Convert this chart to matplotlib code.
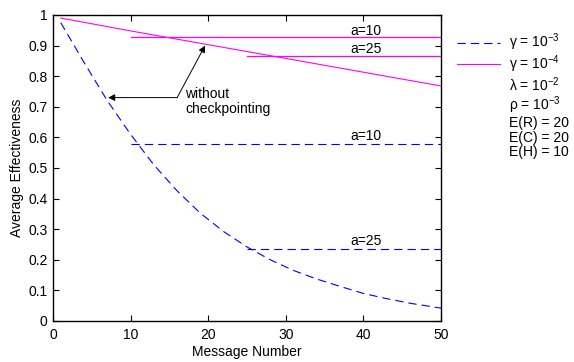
"""Average effectiveness vs message number, with/without checkpointing."""

import matplotlib

matplotlib.use("Agg")

import matplotlib.pyplot as plt  # noqa: E402
from matplotlib.lines import Line2D  # noqa: E402

plt.rcParams["font.family"] = ["Liberation Sans", "DejaVu Sans"]
plt.rcParams["mathtext.fontset"] = "custom"
plt.rcParams["mathtext.rm"] = "Liberation Sans"
plt.rcParams["mathtext.it"] = "Liberation Sans:italic"

# data
msg_blue = [1, 4, 7, 10, 13, 16, 19, 22, 25, 28, 31, 34, 37, 40, 43, 46, 50]
eff_blue = [0.975, 0.845, 0.72, 0.61, 0.51, 0.425, 0.352, 0.292, 0.242,
            0.2, 0.165, 0.137, 0.113, 0.09, 0.073, 0.058, 0.042]
msg_mag = [1, 10, 20, 30, 40, 50]
eff_mag = [0.99, 0.948, 0.903, 0.858, 0.813, 0.768]

ckpt_blue = {10: 0.578, 25: 0.235}
ckpt_mag = {10: 0.927, 25: 0.867}
x_end = 50

legend_labels = [
    "γ = 10$^{-3}$",
    "γ = 10$^{-4}$",
    "λ = 10$^{-2}$",
    "ρ = 10$^{-3}$",
    "E(R) = 20",
    "E(C) = 20",
    "E(H) = 10",
]

BLUE = "#0000ff"
MAG = "#ff00ff"
DASH = (7.5, 4.5)
FS = 10

fig = plt.figure(figsize=(5.74, 3.62), dpi=100)
ax = fig.add_axes([0.0923, 0.1133, 0.676, 0.8453])

ax.plot(msg_blue, eff_blue, color=BLUE, lw=0.8, dashes=DASH)
ax.plot(msg_mag, eff_mag, color=MAG, lw=0.8)

for a, y in ckpt_blue.items():
    ax.plot([a, x_end], [y, y], color=BLUE, lw=0.8, dashes=DASH)
    ax.text(40.3, y + 0.005, f"a={a}", ha="center", va="bottom", fontsize=FS)
for a, y in ckpt_mag.items():
    ax.plot([a, x_end], [y, y], color=MAG, lw=0.9)
    ax.text(40.3, y - 0.002, f"a={a}", ha="center", va="bottom", fontsize=FS)

arrow = dict(arrowstyle="-|>", color="k", lw=0.7, mutation_scale=10,
             shrinkA=0, shrinkB=0)
ax.annotate("", xy=(7.1, 0.73), xytext=(16, 0.73), arrowprops=arrow)
ax.annotate("", xy=(19.6, 0.9), xytext=(16, 0.73), arrowprops=arrow)
ax.text(17, 0.765, "without\ncheckpointing", ha="left", va="top",
        fontsize=FS, linespacing=1.1)

ax.set_xlim(0, 50)
ax.set_ylim(0, 1)
ax.set_xticks(range(0, 51, 10))
ax.set_yticks([i / 10 for i in range(11)])
ax.set_yticklabels(["0"] + [f"{i / 10:g}" for i in range(1, 10)] + ["1"])
ax.tick_params(direction="in", top=True, right=True, labelsize=FS,
               length=4, width=0.8)
ax.tick_params(axis="x", pad=5)
ax.tick_params(axis="y", pad=4)
for s in ax.spines.values():
    s.set_linewidth(1.0)
ax.set_xlabel("Message Number", fontsize=FS, labelpad=2)
ax.set_ylabel("Average Effectiveness", fontsize=FS, labelpad=3)

handles = [
    Line2D([], [], color=BLUE, lw=0.8, dashes=DASH),
    Line2D([], [], color=MAG, lw=0.8),
] + [Line2D([], [], color="none") for _ in legend_labels[2:]]
ax.legend(handles, legend_labels, loc="upper left",
          bbox_to_anchor=(1.041, 0.945), frameon=False, fontsize=FS,
          handlelength=3.1, handletextpad=0.65, labelspacing=0.02,
          borderaxespad=0, borderpad=0)

fig.savefig("out.png", dpi=100)
